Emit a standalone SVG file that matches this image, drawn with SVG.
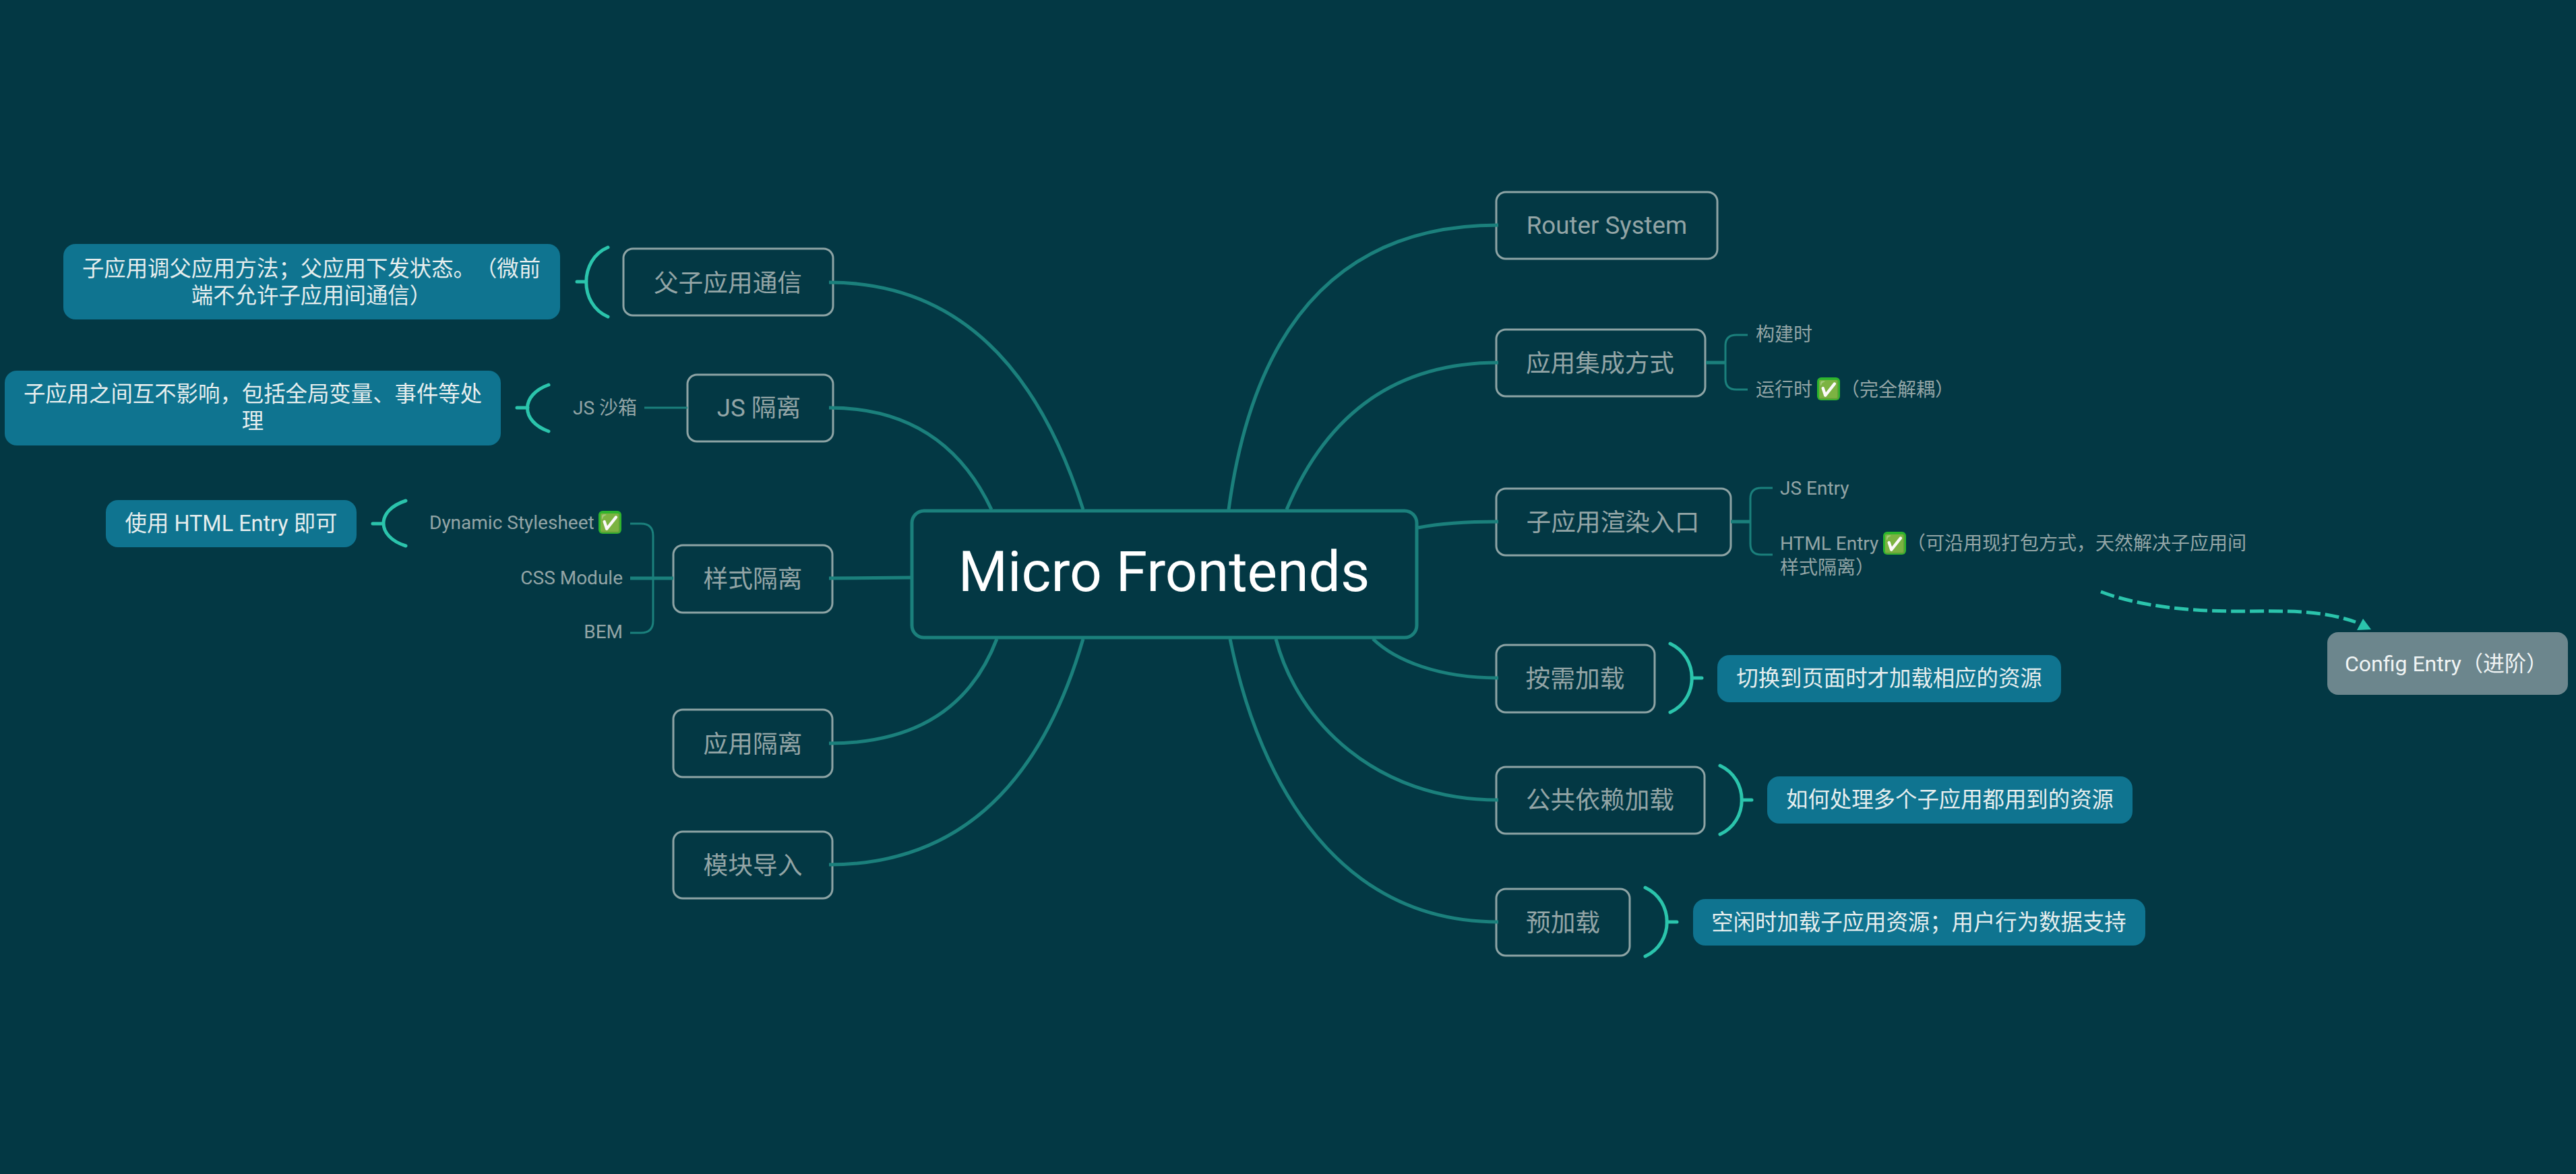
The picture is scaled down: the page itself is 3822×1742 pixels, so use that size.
<svg xmlns="http://www.w3.org/2000/svg" width="3822" height="1742" viewBox="0 0 3822 1742">
<style>
text{font-family:"Roboto","Noto Sans CJK SC",sans-serif;text-spacing-trim:space-all}
.n rect{fill:#033844;stroke:#8ea4a5;stroke-width:3}
.n text{font-size:36.700px;fill:#93a5a6;text-anchor:middle}
.s rect{fill:#0f7490}
.s text{font-size:32.400px;fill:#e6eeee;text-anchor:middle}
.t{font-size:28px;fill:#93a5a6}
.e{fill:#2db52d}
.k{font-family:"DejaVu Sans",sans-serif;font-size:26px;fill:#fff;text-anchor:middle}
.c{fill:none;stroke:#1b807c;stroke-width:5}
.c2{fill:none;stroke:#1b807c;stroke-width:3}
.b{fill:none;stroke:#2bc4ac;stroke-width:5;stroke-linecap:round}
</style>
<defs>
<marker id="arrow" markerUnits="userSpaceOnUse" markerWidth="40" markerHeight="40" refX="0" refY="20" orient="0" viewBox="0 0 40 40"><path d="M11 15L2 32L23 31Z" fill="#2bc4ac"/></marker>
</defs>
<rect width="3822" height="1742" fill="#033844"/>
<g id="root"><rect x="1353" y="758" width="749" height="188" rx="18" fill="#033844" stroke="#1b807c" stroke-width="5"/><text x="1727" y="877" font-size="84" fill="#fff" text-anchor="middle">Micro Frontends</text></g>
<g id="router-system" class="n"><rect x="2220" y="285" width="328" height="99" rx="14"/><text x="2384" y="347">Router System</text></g>
<g id="integration" class="n"><rect x="2220" y="489" width="310" height="99" rx="14"/><text x="2374" y="552">应用集成方式</text></g>
<g id="entry" class="n"><rect x="2220" y="725" width="348" height="99" rx="14"/><text x="2393" y="788">子应用渲染入口</text></g>
<g id="on-demand" class="n"><rect x="2220" y="957" width="235" height="100" rx="14"/><text x="2337" y="1020">按需加载</text></g>
<g id="shared" class="n"><rect x="2220" y="1138" width="309" height="99" rx="14"/><text x="2374" y="1200">公共依赖加载</text></g>
<g id="preload" class="n"><rect x="2220" y="1319" width="198" height="99" rx="14"/><text x="2319" y="1382">预加载</text></g>
<g id="parent-child" class="n"><rect x="925" y="369" width="311" height="99" rx="14"/><text x="1080" y="433">父子应用通信</text></g>
<g id="js-isolation" class="n"><rect x="1020" y="556" width="216" height="99" rx="14"/><text x="1126" y="618">JS 隔离</text></g>
<g id="style-isolation" class="n"><rect x="999" y="809" width="236" height="100" rx="14"/><text x="1117" y="872">样式隔离</text></g>
<g id="app-isolation" class="n"><rect x="999" y="1053" width="236" height="100" rx="14"/><text x="1117" y="1117">应用隔离</text></g>
<g id="module-import" class="n"><rect x="999" y="1234" width="236" height="99" rx="14"/><text x="1117" y="1297">模块导入</text></g>
<g id="sum-parent-child" class="s"><rect x="94" y="362" width="737" height="112" rx="18"/><text x="462" y="410">子应用调父应用方法；父应用下发状态。（微前</text><text x="462" y="450">端不允许子应用间通信）</text></g>
<g id="sum-js" class="s"><rect x="7" y="550" width="736" height="111" rx="18"/><text x="375" y="596">子应用之间互不影响，包括全局变量、事件等处</text><text x="375" y="636">理</text></g>
<g id="sum-style" class="s"><rect x="157" y="742" width="372" height="70" rx="18"/><text x="343" y="788">使用 HTML Entry 即可</text></g>
<g id="sum-on-demand" class="s"><rect x="2548" y="972" width="510" height="70" rx="18"/><text x="2803" y="1018">切换到页面时才加载相应的资源</text></g>
<g id="sum-shared" class="s"><rect x="2622" y="1152" width="542" height="70" rx="18"/><text x="2893" y="1198">如何处理多个子应用都用到的资源</text></g>
<g id="sum-preload" class="s"><rect x="2512" y="1334" width="671" height="69" rx="18"/><text x="2847" y="1380">空闲时加载子应用资源；用户行为数据支持</text></g>
<g id="js-sandbox"><text class="t" x="850" y="615">JS 沙箱</text></g>
<g id="dynamic-stylesheet"><text class="t" x="637" y="785">Dynamic Stylesheet</text><rect class="e" x="888" y="758" width="34" height="34" rx="6"/><text class="k" x="905" y="785">✅</text></g>
<g id="css-module"><text class="t" x="924" y="867" text-anchor="end">CSS Module</text></g>
<g id="bem"><text class="t" x="924" y="947" text-anchor="end">BEM</text></g>
<g id="build-time"><text class="t" x="2605" y="506">构建时</text></g>
<g id="run-time"><text class="t" x="2605" y="588">运行时</text><rect class="e" x="2696" y="560" width="34" height="34" rx="6"/><text class="k" x="2713" y="587">✅</text><text class="t" x="2731" y="588">（完全解耦）</text></g>
<g id="js-entry"><text class="t" x="2641" y="734">JS Entry</text></g>
<g id="html-entry"><text class="t" x="2641" y="816">HTML Entry</text><rect class="e" x="2794" y="789" width="34" height="34" rx="6"/><text class="k" x="2811" y="816">✅</text><text class="t" x="2829" y="816">（可沿用现打包方式，天然解决子应用间</text><text class="t" x="2641" y="852">样式隔离）</text></g>
<g id="config-entry"><rect x="3453" y="938" width="357" height="93" rx="16" fill="#6c868d"/><text x="3479" y="996" font-size="32" fill="#f0f4f4">Config Entry（进阶）</text></g>
<g id="connectors">
<path class="c" d="M1823 756Q1880 334 2223 334"/>
<path class="c" d="M1909 756Q2000 538 2223 538"/>
<path class="c" d="M2104 783Q2150 774 2223 774"/>
<path class="c" d="M2037 948C2070 980 2135 1006 2223 1006"/>
<path class="c" d="M1893 948C1925 1070 2040 1187 2223 1187"/>
<path class="c" d="M1825 948C1870 1170 1990 1368 2223 1368"/>
<path class="c" d="M1607 756Q1500 419 1230 419"/>
<path class="c" d="M1471 756Q1400 605 1230 605"/>
<path class="c" d="M1351 857L1230 858"/>
<path class="c" d="M1479 948Q1420 1103 1230 1103"/>
<path class="c" d="M1607 948Q1510 1283 1230 1283"/>
<path class="c2" d="M956 605H1020"/>
<path class="c" d="M935 858H999"/>
<path class="c2" d="M935 777H951Q969 777 969 795V921Q969 939 951 939H935"/>
<path class="c" d="M2531 538H2560"/>
<path class="c2" d="M2593 497H2576Q2560 497 2560 513V562Q2560 578 2576 578H2593"/>
<path class="c" d="M2568 774H2597"/>
<path class="c2" d="M2630 724H2613Q2597 724 2597 740V807Q2597 823 2613 823H2630"/>
<path class="b" d="M902 367C859 385 859 452 902 470M870 418H856"/>
<path class="b" d="M814 571C772 586 772 625 814 640M783 605H767"/>
<path class="b" d="M602 743C558 757 558 796 602 810M569 777H553"/>
<path class="b" d="M2478 955C2521 975 2521 1037 2478 1057M2510 1006H2525"/>
<path class="b" d="M2552 1136C2595 1156 2595 1218 2552 1238M2584 1187H2599"/>
<path class="b" d="M2441 1317C2484 1337 2484 1399 2441 1419M2473 1368H2488"/>
<path d="M3117 878C3180 902 3260 907 3320 907C3390 907 3440 904 3495 923" fill="none" stroke="#2bc4ac" stroke-width="5" stroke-dasharray="21 7" marker-end="url(#arrow)"/>
</g>
</svg>
